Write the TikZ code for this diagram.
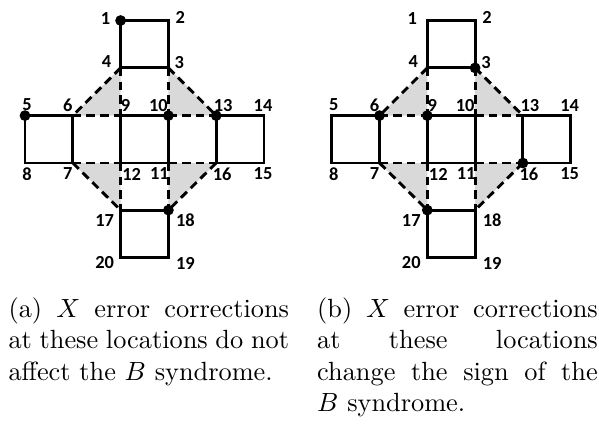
\documentclass[tikz,border=0pt]{standalone}
\usepackage{fontspec}
\newfontfamily\lblfont{Carlito}
\definecolor{shadegray}{RGB}{217,217,217}
\tikzset{
  solidln/.style={line width=1.1pt, line join=miter},
  dashln/.style={line width=1.1pt, dash pattern=on 3.2pt off 2pt},
  shadetri/.style={fill=shadegray, draw=none},
  dot/.style={circle, fill=black, draw=none, inner sep=0pt, minimum size=4.1pt},
  lbl/.style={font=\lblfont\bfseries\fontsize{7}{8}\selectfont, inner sep=0pt, anchor=center},
  capline/.style={anchor=base west, inner sep=0pt, font=\fontsize{10}{12}\selectfont},
}
\newcommand\lattice{%
  \coordinate (1) at (120.6,20.5);  \coordinate (2) at (168.4,20.5);
  \coordinate (3) at (168.4,67.9);  \coordinate (4) at (120.6,67.9);
  \coordinate (5) at (25,115.6);    \coordinate (6) at (72.8,115.6);
  \coordinate (7) at (72.8,163);    \coordinate (8) at (25,163);
  \coordinate (9) at (120.6,115.6); \coordinate (10) at (168.4,115.6);
  \coordinate (11) at (168.4,163);  \coordinate (12) at (120.6,163);
  \coordinate (13) at (216.2,115.6);\coordinate (14) at (264,115.6);
  \coordinate (15) at (264,163);    \coordinate (16) at (216.2,163);
  \coordinate (17) at (120.6,210.1);\coordinate (18) at (168.4,210.1);
  \coordinate (19) at (168.4,257.5);\coordinate (20) at (120.6,257.5);
  % shaded triangles
  \fill[shadetri] (4) -- (6) -- (9) -- cycle;
  \fill[shadetri] (3) -- (10) -- (13) -- cycle;
  \fill[shadetri] (7) -- (12) -- (17) -- cycle;
  \fill[shadetri] (11) -- (16) -- (18) -- cycle;
  % dashed edges
  \draw[dashln] (4) -- (6);  \draw[dashln] (3) -- (13);
  \draw[dashln] (7) -- (17); \draw[dashln] (16) -- (18);
  \draw[dashln] (6) -- (9);  \draw[dashln] (10) -- (13);
  \draw[dashln] (7) -- (12); \draw[dashln] (11) -- (16);
  \draw[dashln] (4) -- (9);  \draw[dashln] (3) -- (10);
  \draw[dashln] (12) -- (17);\draw[dashln] (11) -- (18);
  % solid edges
  \draw[solidln] (1) -- (2) -- (3) -- (4) -- cycle;
  \draw[solidln] (5) -- (6) -- (7) -- (8) -- cycle;
  \draw[solidln] (13) -- (14) -- (15) -- (16) -- cycle;
  \draw[solidln] (17) -- (18) -- (19) -- (20) -- cycle;
  \draw[solidln] (9) -- (10);  \draw[solidln] (12) -- (11);
  \draw[solidln] (9) -- (12);  \draw[solidln] (10) -- (11);
  % labels
  \node[lbl] (l1)  at ([shift={(-15,-2)}]1) {1};
  \node[lbl] (l2)  at ([shift={(12,-3)}]2) {2};
  \node[lbl] (l3)  at ([shift={(11,-5)}]3) {3};
  \node[lbl] (l4)  at ([shift={(-14,-6)}]4) {4};
  \node[lbl] (l5)  at ([shift={(2,-11)}]5) {5};
  \node[lbl] (l6)  at ([shift={(-5,-10)}]6) {6};
  \node[lbl] (l7)  at ([shift={(-5,11)}]7) {7};
  \node[lbl] (l8)  at ([shift={(2,11)}]8) {8};
  \node[lbl] (l9)  at ([shift={(5,-10)}]9) {9};
  \node[lbl] (l10) at ([shift={(-10,-10)}]10) {10};
  \node[lbl] (l11) at ([shift={(-9,11)}]11) {11};
  \node[lbl] (l12) at ([shift={(11,11)}]12) {12};
  \node[lbl] (l13) at ([shift={(7,-10)}]13) {13};
  \node[lbl] (l14) at ([shift={(-1,-10)}]14) {14};
  \node[lbl] (l15) at ([shift={(-1,11)}]15) {15};
  \node[lbl] (l16) at ([shift={(6,11)}]16) {16};
  \node[lbl] (l17) at ([shift={(-16,10)}]17) {17};
  \node[lbl] (l18) at ([shift={(17,10)}]18) {18};
  \node[lbl] (l19) at ([shift={(17,6)}]19) {19};
  \node[lbl] (l20) at ([shift={(-16,5)}]20) {20};
}
\begin{document}
\begin{tikzpicture}[x=0.38pt, y=-0.38pt]
  \useasboundingbox (0,0) rectangle (599,425);
  \begin{scope}[name prefix=a]
    \lattice
    \node[dot] (d1) at (1) {};
    \node[dot] (d5) at (5) {};
    \node[dot] (d10) at (10) {};
    \node[dot] (d13) at (13) {};
    \node[dot] (d18) at (18) {};
  \end{scope}
  \begin{scope}[shift={(306.7,0)}, name prefix=b]
    \lattice
    \node[dot] (d3) at (3) {};
    \node[dot] (d6) at (6) {};
    \node[dot] (d9) at (9) {};
    \node[dot] (d16) at (16) {};
    \node[dot] (d17) at (17) {};
  \end{scope}
  % captions
  \node[capline] (ca1) at (8,317)   {\makebox[106.6pt][s]{(a) $X$ error corrections}};
  \node[capline] (ca2) at (8,348.6) {\makebox[106.6pt][s]{at these locations do not}};
  \node[capline] (ca3) at (8,380.2) {affect the $B$ syndrome.};
  \node[capline] (cb1) at (316.7,317)   {\makebox[106.6pt][s]{(b) $X$ error corrections}};
  \node[capline] (cb2) at (316.7,348.6) {\makebox[106.6pt][s]{at these locations}};
  \node[capline] (cb3) at (316.7,380.2) {\makebox[106.6pt][s]{change the sign of the}};
  \node[capline] (cb4) at (316.7,411.8) {$B$ syndrome.};
\end{tikzpicture}
\end{document}
